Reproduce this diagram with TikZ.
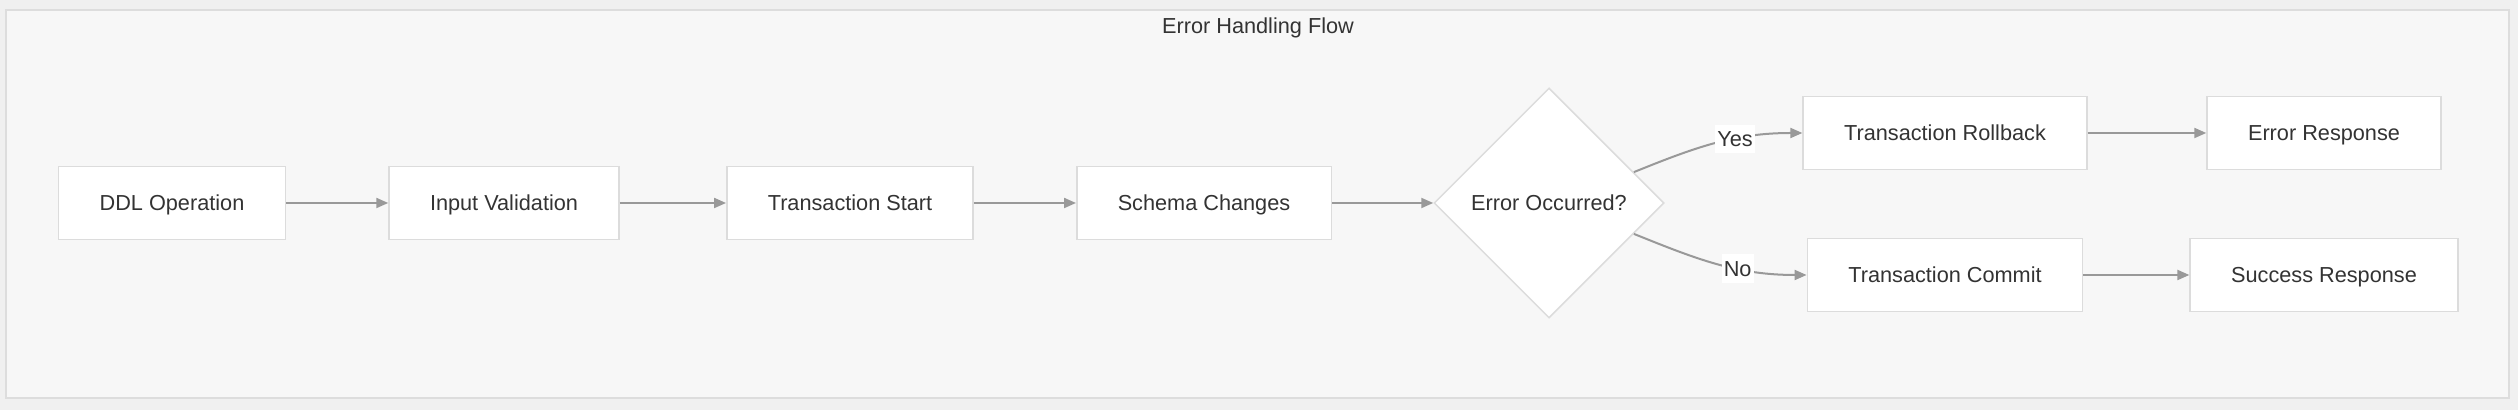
\documentclass[tikz,border=0pt]{standalone}
\usepackage{fontspec}
\setmainfont{Liberation Sans}
\usetikzlibrary{shapes.geometric,arrows.meta}
\definecolor{pagebg}{HTML}{F0F0F0}
\definecolor{framefill}{HTML}{F7F7F7}
\definecolor{frameline}{HTML}{DDDDDD}
\definecolor{boxline}{HTML}{DCDCDC}
\definecolor{arrowgrey}{HTML}{999999}
\definecolor{textgrey}{HTML}{333333}
\begin{document}
\begin{tikzpicture}[x=0.5pt, y=0.5pt,
	>={Triangle[length=6pt,width=5pt]},
	every node/.style={font=\fontsize{10.85}{13}\selectfont, text=textgrey},
	stepbox/.style={rectangle, draw=boxline, line width=0.75pt, fill=white,
				inner xsep=20.5pt, minimum height=36.5pt,
				text height=10pt, text depth=2.2pt},
	decision/.style={diamond, aspect=1, draw=boxline, line width=0.75pt,
				fill=white, inner sep=0pt, minimum size=115pt,
				text height=10pt, text depth=2.2pt},
	arr/.style={->, draw=arrowgrey, line width=1pt},
	elabel/.style={fill=white, inner sep=1pt, text height=10pt, text depth=2.2pt}]
	\useasboundingbox (0,0) rectangle (2518,410);
	\fill[pagebg] (0,0) rectangle (2518,410);
	\filldraw[fill=framefill, draw=frameline, line width=0.75pt] (6,12) rectangle (2509,400);
	\node (title) at (1258,382) {Error Handling Flow};
	
	\node[stepbox] (ddl) at (172,207) {DDL Operation};
	\node[stepbox] (valid) at (504,207) {Input Validation};
	\node[stepbox] (start) at (850,207) {Transaction Start};
	\node[stepbox] (schema) at (1204,207) {Schema Changes};
	\node[decision] (err) at (1549,207) {Error Occurred?};
	\node[stepbox] (rollback) at (1945,277) {Transaction Rollback};
	\node[stepbox] (commit) at (1945,135) {Transaction Commit};
	\node[stepbox] (errresp) at (2324,277) {Error Response};
	\node[stepbox] (okresp) at (2324,135) {Success Response};
	
	\draw[arr] (ddl) -- (valid);
	\draw[arr] (valid) -- (start);
	\draw[arr] (start) -- (schema);
	\draw[arr] (schema) -- (err);
	\draw[arr] (err.20) to[out=22,in=180] node[elabel,pos=0.62] {Yes} (rollback.west);
	\draw[arr] (err.-20) to[out=-22,in=180] node[elabel,pos=0.62] {No} (commit.west);
	\draw[arr] (rollback) -- (errresp);
	\draw[arr] (commit) -- (okresp);
	
\end{tikzpicture}
\end{document}
